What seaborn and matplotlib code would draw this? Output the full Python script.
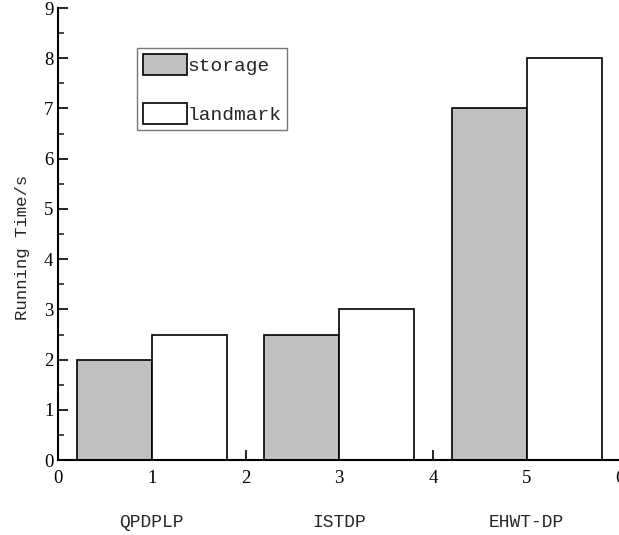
"""Running time comparison bar chart"""
import pandas as pd
import seaborn as sns
import matplotlib
matplotlib.use("Agg")
import matplotlib.pyplot as plt
from matplotlib.patches import Patch
from matplotlib.ticker import MultipleLocator

methods = ["QPDPLP", "ISTDP", "EHWT-DP"]
centers = [1, 3, 5]
storage = [2.0, 2.5, 7.0]
landmark = [2.5, 3.0, 8.0]

df = pd.DataFrame({
    "x": centers * 2,
    "time": storage + landmark,
    "kind": ["storage"] * 3 + ["landmark"] * 3,
})

sns.set_theme(style="ticks")
plt.rcParams["font.family"] = ["Liberation Mono", "DejaVu Sans Mono"]
digits = ["Liberation Serif", "DejaVu Serif"]

fig = plt.figure(figsize=(6.19, 5.35), dpi=100)
ax = fig.add_axes([0.094, 0.14, 0.908, 0.845])

colors = {"storage": "#c0c0c0", "landmark": "white"}
sns.barplot(data=df, x="x", y="time", hue="kind", native_scale=True,
            palette=colors, width=0.8, edgecolor="black", linewidth=1.2,
            saturation=1, ax=ax, legend=False)

ax.set_xlim(0, 6)
ax.set_ylim(0, 9)
ax.xaxis.set_major_locator(MultipleLocator(1))
ax.xaxis.set_minor_locator(MultipleLocator(0.5))
ax.yaxis.set_major_locator(MultipleLocator(1))
ax.yaxis.set_minor_locator(MultipleLocator(0.5))
ax.tick_params(which="major", direction="in", length=7, width=1.2,
               labelsize=13.5, colors="black")
ax.tick_params(which="minor", direction="in", length=4, width=1.2)
ax.tick_params(axis="x", pad=7)
for lab in ax.get_xticklabels() + ax.get_yticklabels():
    lab.set_family(digits)
sns.despine(ax=ax)
for s in ["left", "bottom"]:
    ax.spines[s].set_linewidth(1.5)
    ax.spines[s].set_color("black")

ax.set_xlabel("")
ax.set_ylabel("Running Time/s", fontsize=12.5)
ax.yaxis.set_label_coords(-0.05, 0.47)

for c, m in zip(centers, methods):
    ax.text(c, -1.25, m, ha="center", va="center", fontsize=13,
            transform=ax.transData, clip_on=False)

handles = [Patch(facecolor=colors[k], edgecolor="black", linewidth=1.2)
           for k in ["storage", "landmark"]]
leg = ax.legend(handles, ["storage", "landmark"], loc="upper left",
                bbox_to_anchor=(0.14, 0.912), fontsize=14,
                frameon=True, fancybox=False, labelspacing=1.45,
                handlelength=2.3, handleheight=1.3, handletextpad=0.0,
                borderpad=0.3, borderaxespad=0)
leg.get_frame().set_edgecolor("#555555")
leg.get_frame().set_linewidth(1.0)

fig.savefig("out.png", dpi=100)
